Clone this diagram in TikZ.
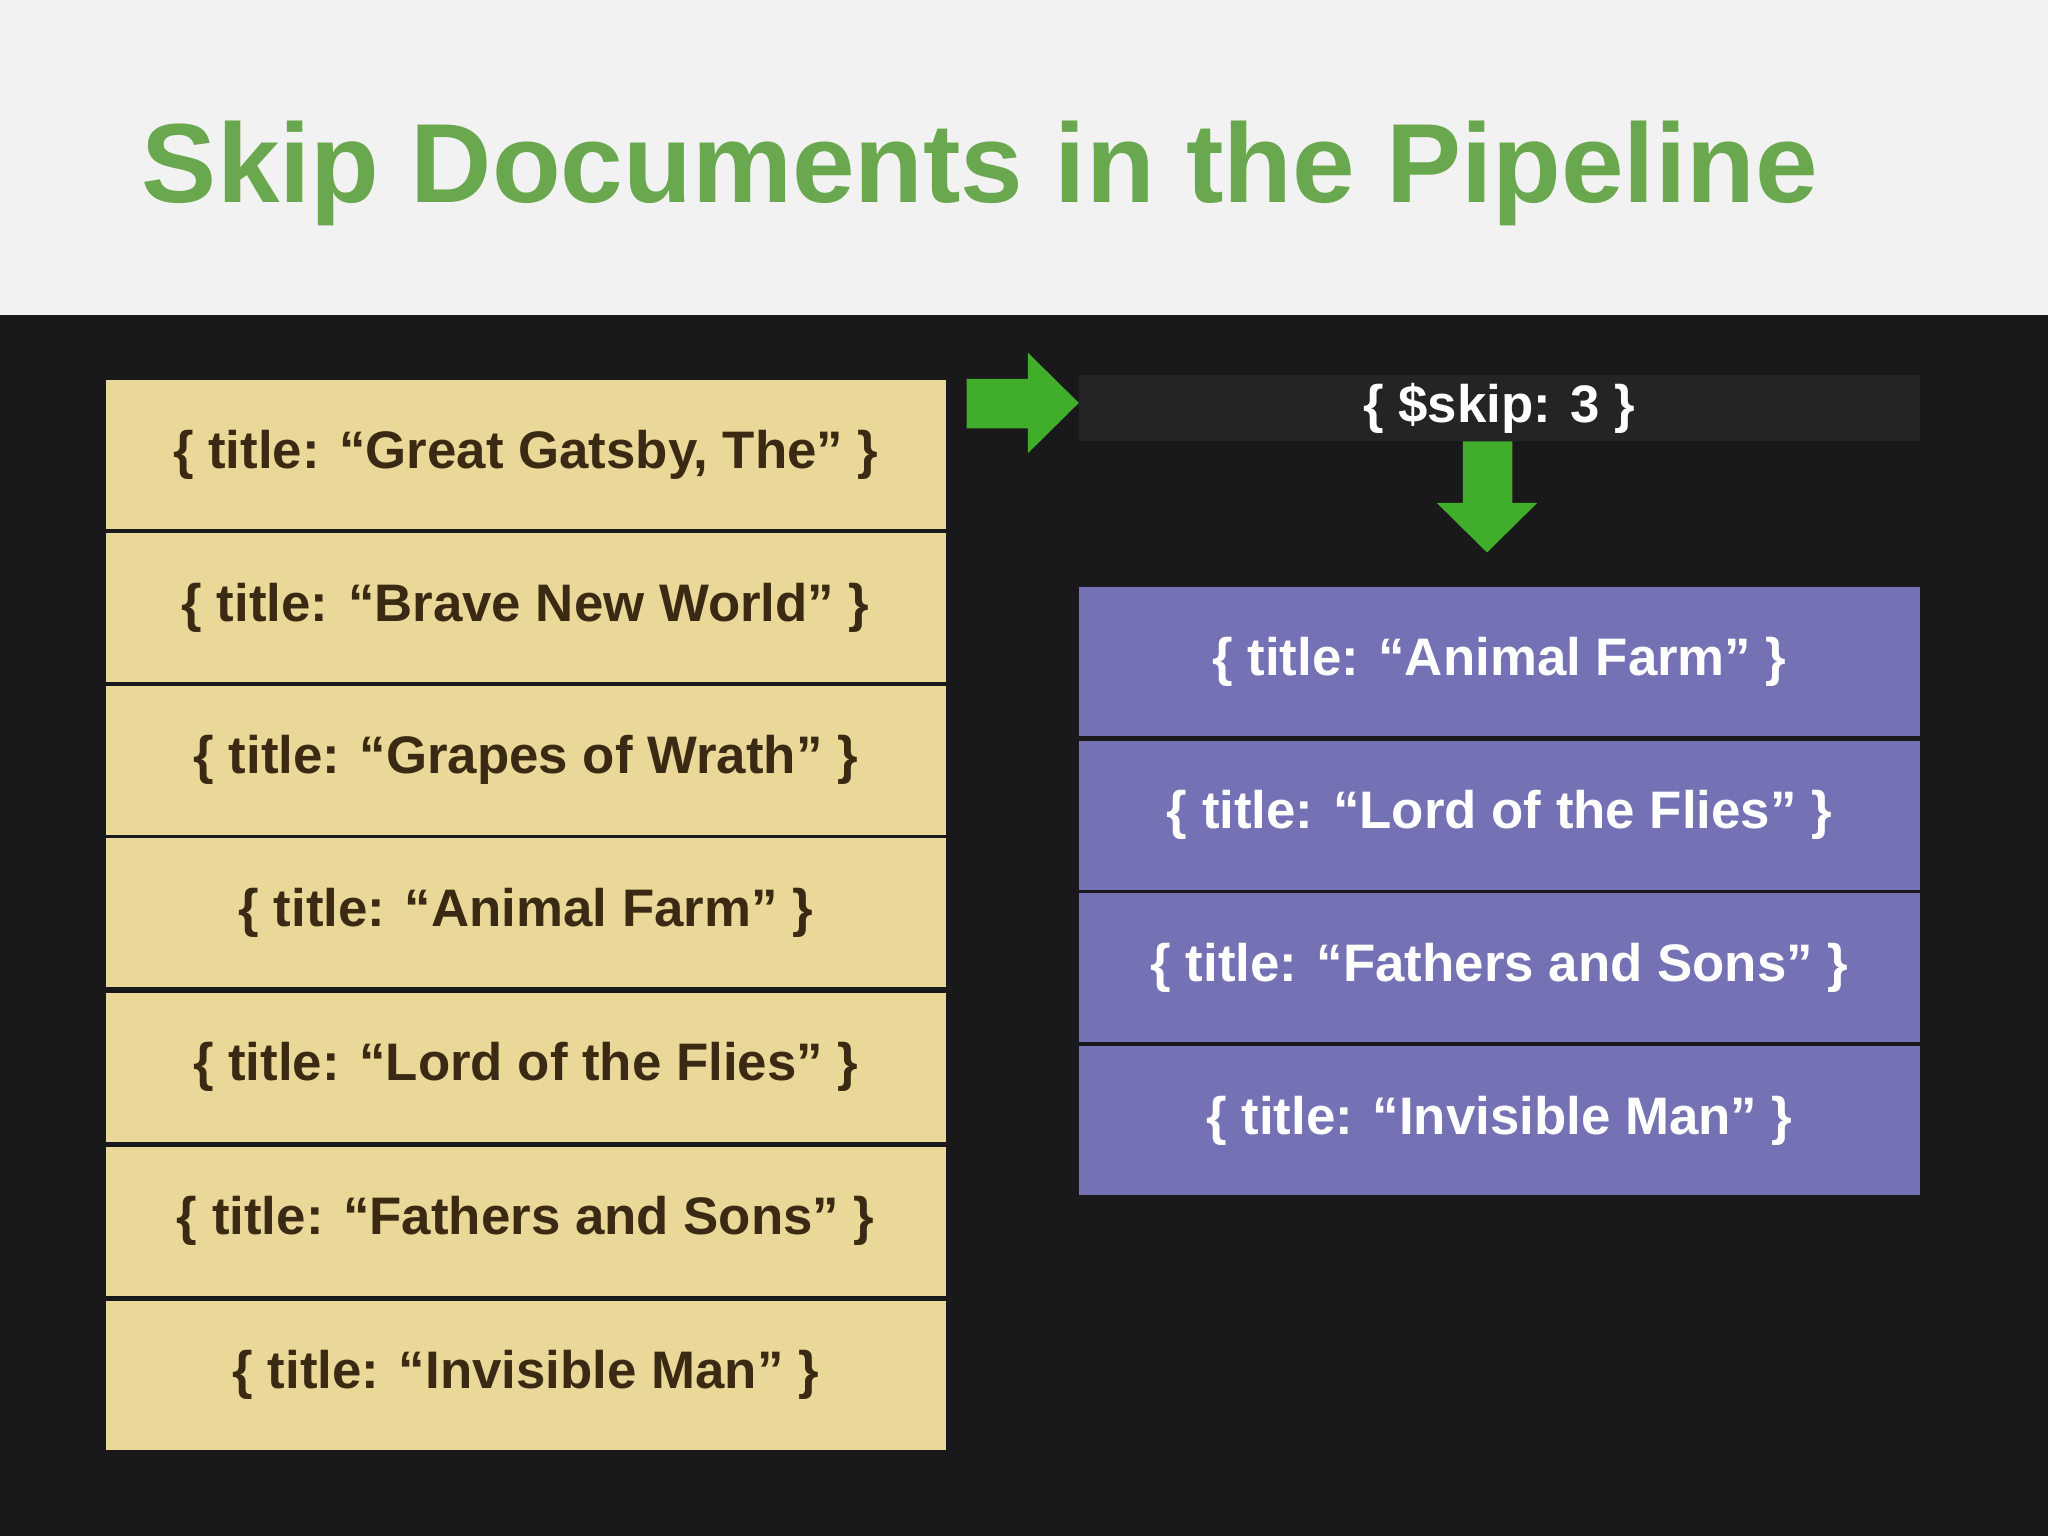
\documentclass[tikz,border=0pt]{standalone}
\usepackage{fontspec}
\setmainfont{Liberation Sans}
\definecolor{bgdark}{HTML}{19181A}
\definecolor{bglight}{HTML}{F2F2F2}
\definecolor{ttl}{HTML}{6AA84F}
\definecolor{tan}{HTML}{EAD898}
\definecolor{brn}{HTML}{3A2A14}
\definecolor{purp}{HTML}{7472B4}
\definecolor{skipbg}{HTML}{242326}
\definecolor{arr}{HTML}{40AE2A}
\begin{document}
\begin{tikzpicture}[x=0.01cm,y=-0.01cm,
  doc/.style={minimum width=6.43cm,minimum height=1.14cm,inner sep=0pt,font=\fontsize{11.5}{13}\selectfont\bfseries},
  leftdoc/.style={doc,fill=tan,text=brn},
  rightdoc/.style={doc,fill=purp,text=white}]
\useasboundingbox (0,0) rectangle (1568,1176);
\fill[bglight] (0,0) rectangle (1568,241);
\fill[bgdark] (0,241) rectangle (1568,1176);
\node[anchor=base west,text=ttl,font=\fontsize{24.5}{28}\selectfont\bfseries,inner sep=0pt] (title) at (108,155) {Skip Documents in the Pipeline};
\foreach \y/\t [count=\i] in {348/{Great Gatsby, The},465/Brave New World,582/Grapes of Wrath,699/Animal Farm,817/Lord of the Flies,935/Fathers and Sons,1053/Invisible Man}
  {\node[leftdoc] (l\i) at (402.5,\y) {\{ title: “\t” \}};}
\node[minimum width=6.44cm,minimum height=0.51cm,inner sep=0pt,fill=skipbg,text=white,font=\fontsize{11.5}{13}\selectfont\bfseries] (skip) at (1148,312.5) {\{ \$skip: 3 \}};
\foreach \y/\t [count=\i] in {506.5/Animal Farm,624/Lord of the Flies,741/Fathers and Sons,858/Invisible Man}
  {\node[rightdoc] (r\i) at (1148,\y) {\{ title: “\t” \}};}
\fill[arr] (740,290) -- (787,290) -- (787,270) -- (826,308.5) -- (787,347) -- (787,328) -- (740,328) -- cycle;
\fill[arr] (1120,338) -- (1158,338) -- (1158,385) -- (1177,385) -- (1138.5,423) -- (1100,385) -- (1120,385) -- cycle;
\end{tikzpicture}
\end{document}
